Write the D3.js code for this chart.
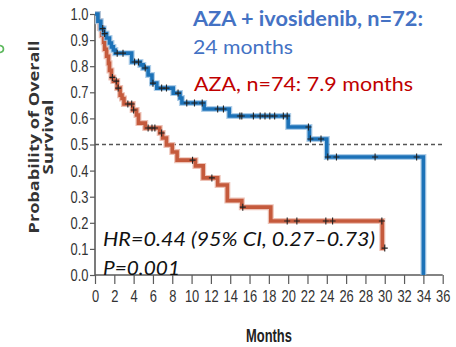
<!DOCTYPE html>
<html>
<head>
<meta charset="utf-8">
<script src="https://cdn.jsdelivr.net/npm/d3@7"></script>
<style>
  html, body { margin: 0; padding: 0; background: #fff; }
  svg { display: block; }
</style>
</head>
<body>
<svg id="chart" width="456" height="347"></svg>
<script>
// Kaplan–Meier overall survival: AZA + ivosidenib vs AZA
const monthTicks = [0, 2, 4, 6, 8, 10, 12, 14, 16, 18, 20, 22, 24, 26, 28, 30, 32, 34, 36];
const survTicks = [0.0, 0.1, 0.2, 0.3, 0.4, 0.5, 0.6, 0.7, 0.8, 0.9, 1.0];

// AZA + ivosidenib arm: step times (months) and survival after each step
const ivoTimes = [0, 0.3, 0.6, 0.9, 1.2, 1.5, 1.7, 1.9, 2.1, 3.8, 4.7, 5.0, 5.5, 5.9, 6.4, 8.1, 8.8, 9.0, 11.3, 13.9, 20.0, 22.2, 24.0, 34.0];
const ivoSurv  = [1.0, 0.972, 0.944, 0.925, 0.908, 0.889, 0.874, 0.862, 0.85, 0.816, 0.805, 0.793, 0.766, 0.735, 0.716, 0.697, 0.678, 0.659, 0.636, 0.609, 0.567, 0.521, 0.452, 0.0];
const ivoCensored = [0.8, 1.0, 2.3, 2.9, 4.1, 4.5, 5.2, 6.0, 6.9, 7.4, 8.6, 9.5, 10.3, 11.1, 12.7, 13.3, 15.0, 15.2, 16.4, 17.1, 17.6, 18.1, 18.6, 19.5, 19.9, 22.1, 22.3, 23.4, 24.1, 25.0, 29.0, 33.3];

// AZA arm
const azaTimes = [0, 0.3, 0.5, 0.7, 0.9, 1.0, 1.2, 1.4, 1.5, 1.7, 1.9, 2.3, 2.6, 2.8, 3.0, 3.9, 4.3, 4.5, 5.2, 6.7, 7.0, 7.4, 8.0, 8.5, 10.4, 11.2, 12.7, 13.7, 15.2, 18.2, 29.75, 30.0];
const azaSurv  = [1.0, 0.973, 0.946, 0.919, 0.892, 0.865, 0.838, 0.811, 0.784, 0.757, 0.743, 0.716, 0.689, 0.676, 0.655, 0.632, 0.613, 0.582, 0.563, 0.544, 0.525, 0.498, 0.471, 0.44, 0.418, 0.372, 0.345, 0.285, 0.26, 0.207, 0.103, 0.103];
const azaCensored = [1.8, 2.2, 2.4, 3.4, 3.8, 4.0, 5.5, 5.9, 6.2, 6.9, 10.1, 12.1, 15.3, 19.9, 20.9, 23.9, 24.6, 29.7, 30.0];

const svg = d3.select("#chart");
const x = d3.scaleLinear().domain([0, 36]).range([95, 442.7]);
const y = d3.scaleLinear().domain([0, 1]).range([275, 14]);

const arial = "'Liberation Sans', Arial, sans-serif";
const squeeze = 0.76;           // horizontal condensing for the axis lettering
const axisColor = "#5a5a5a";

// small green mark at the left edge
svg.append("path").attr("d", "M0,45.5 Q3.5,46 3.5,49 Q3.5,52 0,52.5")
  .attr("fill", "none").attr("stroke", "#5cb85c").attr("stroke-width", 1.6);

// median reference line
svg.append("line")
  .attr("x1", x(0)).attr("x2", x(36)).attr("y1", y(0.5)).attr("y2", y(0.5))
  .attr("stroke", "#555").attr("stroke-width", 1.3).attr("stroke-dasharray", "4,3");

// axes
const yAxis = d3.axisLeft(y).tickValues(survTicks).tickFormat(d3.format(".1f")).tickSize(5).tickPadding(1);
const gy = svg.append("g").attr("transform", `translate(${x(0)},0)`).call(yAxis);
const xAxis = d3.axisBottom(x).tickValues(monthTicks).tickFormat(d3.format("d")).tickSize(9).tickPadding(6);
const gx = svg.append("g").attr("transform", `translate(0,${y(0)})`).call(xAxis);
[gx, gy].forEach(g => {
  g.select(".domain").attr("stroke", axisColor).attr("stroke-width", 1.6);
  g.selectAll(".tick line").attr("stroke", axisColor).attr("stroke-width", 1.2);
  g.selectAll(".tick text").attr("font-family", arial).attr("font-size", 17).attr("fill", "#333")
    .attr("transform", `scale(${squeeze},1)`);
});
gy.selectAll(".tick text").attr("x", -6.5 / squeeze);
gx.select(".domain").attr("d", `M${x(0)},0H${x(36)}`);
gy.select(".domain").attr("d", `M0,${y(0)}V${y(1)}`);

// survival curves
function stepPoints(times, surv) { return times.map((t, i) => [t, surv[i]]); }
function survAt(times, surv, t) {
  let s = surv[0];
  for (let i = 0; i < times.length; i++) if (times[i] <= t) s = surv[i];
  return s;
}
const line = d3.line().x(d => x(d[0])).y(d => y(d[1])).curve(d3.curveStepAfter);

const arms = [
  { times: azaTimes, surv: azaSurv, cens: azaCensored, color: "#c55a3c", halo: "#e9b3a4" },
  { times: ivoTimes, surv: ivoSurv, cens: ivoCensored, color: "#1c72b8", halo: "#9cc3e4" }
];
arms.forEach(a => {
  const pts = stepPoints(a.times, a.surv);
  svg.append("path").attr("d", line(pts)).attr("fill", "none")
    .attr("stroke", a.halo).attr("stroke-width", 6).attr("stroke-opacity", 0.8);
  svg.append("path").attr("d", line(pts)).attr("fill", "none")
    .attr("stroke", a.color).attr("stroke-width", 3.6);
});
arms.forEach(a => {
  svg.append("g").selectAll("path").data(a.cens).join("path")
    .attr("d", t => {
      const cx = x(t), cy = y(survAt(a.times, a.surv, t));
      return `M${cx - 3},${cy}H${cx + 3}M${cx},${cy - 3.5}V${cy + 3.5}`;
    })
    .attr("stroke", "#222").attr("stroke-width", 1.1);
});

// y-axis title
const yTitle = svg.append("g").attr("transform", "translate(0,137) rotate(-90)")
  .attr("font-family", "'Open Sans', sans-serif").attr("font-weight", "bold")
  .attr("fill", "#333").attr("text-anchor", "middle");
yTitle.append("text").attr("x", 0).attr("y", 39).attr("font-size", 14.5)
  .attr("textLength", 193).attr("lengthAdjust", "spacingAndGlyphs").text("Probability of Overall");
yTitle.append("text").attr("x", 0).attr("y", 53).attr("font-size", 14.5)
  .attr("textLength", 75).attr("lengthAdjust", "spacingAndGlyphs").text("Survival");

// x-axis title
const monthsScale = 0.68;
svg.append("text").attr("x", 269 / monthsScale).attr("y", 342).attr("text-anchor", "middle")
  .attr("transform", `scale(${monthsScale},1)`)
  .attr("font-family", arial).attr("font-weight", "bold").attr("font-size", 19)
  .attr("fill", "#222").text("Months");

// legend annotations
const sans = "Lato, 'Open Sans', sans-serif";
svg.append("text").attr("x", 193).attr("y", 26).attr("font-family", sans).attr("font-weight", "bold")
  .attr("font-size", 20).attr("fill", "#4472c4")
  .attr("textLength", 230).attr("lengthAdjust", "spacingAndGlyphs").text("AZA + ivosidenib, n=72:");
svg.append("text").attr("x", 193).attr("y", 54).attr("font-family", sans)
  .attr("font-size", 20).attr("fill", "#4472c4")
  .attr("textLength", 100).attr("lengthAdjust", "spacingAndGlyphs").text("24 months");
svg.append("text").attr("x", 194).attr("y", 91).attr("font-family", sans)
  .attr("font-size", 20).attr("fill", "#c00000")
  .attr("textLength", 219).attr("lengthAdjust", "spacingAndGlyphs").text("AZA, n=74: 7.9 months");

// hazard ratio
svg.append("text").attr("x", 103).attr("y", 246).attr("font-family", sans).attr("font-style", "italic")
  .attr("font-size", 20).attr("fill", "#111")
  .attr("textLength", 272).attr("lengthAdjust", "spacingAndGlyphs").text("HR=0.44 (95% CI, 0.27–0.73)");
svg.append("text").attr("x", 103).attr("y", 275).attr("font-family", sans).attr("font-style", "italic")
  .attr("font-size", 20).attr("fill", "#111")
  .attr("textLength", 77).attr("lengthAdjust", "spacingAndGlyphs").text("P=0.001");
</script>
</body>
</html>
